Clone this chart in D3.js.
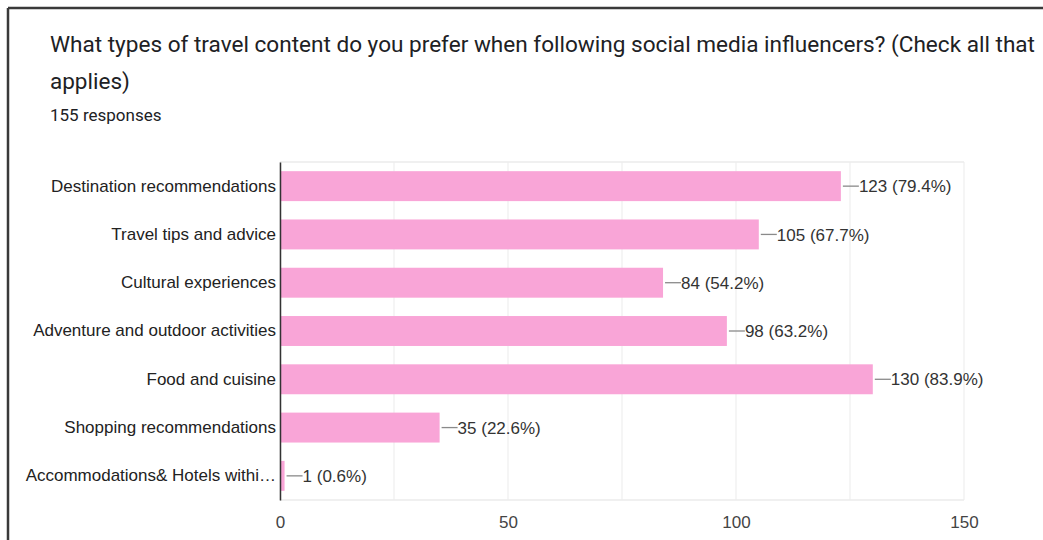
<!DOCTYPE html>
<html>
<head>
<meta charset="utf-8">
<script src="https://cdn.jsdelivr.net/npm/d3@7"></script>
<style>
  html, body { margin: 0; padding: 0; background: #fff; }
  svg { display: block; font-family: Roboto, "Noto Sans", Arial, sans-serif; }
</style>
</head>
<body>
<svg id="chart" width="1043" height="540"></svg>
<script>
// Survey answers: counts per travel content type (out of 155 responses)
const categories = [
  "Destination recommendations",
  "Travel tips and advice",
  "Cultural experiences",
  "Adventure and outdoor activities",
  "Food and cuisine",
  "Shopping recommendations",
  "Accommodations& Hotels withi…"
];
const counts = [123, 105, 84, 98, 130, 35, 1];
const percents = ["79.4%", "67.7%", "54.2%", "63.2%", "83.9%", "22.6%", "0.6%"];
const tickValues = [0, 50, 100, 150];
const gridValues = [0, 25, 50, 75, 100, 125, 150];
const titleLines = [
  "What types of travel content do you prefer when following social media influencers? (Check all that",
  "applies)"
];
const subtitle = "155 responses";

const chartFont = "'Liberation Sans', Arial, sans-serif";
const svg = d3.select("#chart");
const plot = { left: 280, right: 964, top: 162, bottom: 500 };

// card frame (top and left edges visible)
svg.append("line").attr("x1", 8).attr("x2", 1043).attr("y1", 8).attr("y2", 8)
  .attr("stroke", "#3a3a3a").attr("stroke-width", 2.5);
svg.append("line").attr("x1", 8).attr("x2", 8).attr("y1", 8).attr("y2", 540)
  .attr("stroke", "#3a3a3a").attr("stroke-width", 2.5);

// title
svg.append("g").selectAll("text").data(titleLines).join("text")
  .attr("x", 50).attr("y", (d, i) => 52 + i * 37)
  .attr("font-size", 22.5).attr("fill", "#202124")
  .attr("textLength", (d, i) => i === 0 ? 985 : null)
  .attr("lengthAdjust", "spacingAndGlyphs")
  .text(d => d);
svg.append("text").attr("x", 50).attr("y", 121)
  .attr("font-size", 17).attr("fill", "#202124").text(subtitle);

const x = d3.scaleLinear().domain([0, 150]).range([plot.left, plot.right]);
const y = d3.scaleBand().domain(categories).range([plot.top, plot.bottom]).paddingInner(0.38).paddingOuter(0.19);

// gridlines
svg.append("g").selectAll("line").data(gridValues).join("line")
  .attr("x1", d => x(d)).attr("x2", d => x(d))
  .attr("y1", plot.top).attr("y2", plot.bottom)
  .attr("stroke", "#ebebeb").attr("stroke-width", 1);
svg.append("g").selectAll("line").data([plot.top, plot.bottom]).join("line")
  .attr("x1", plot.left).attr("x2", plot.right)
  .attr("y1", d => d).attr("y2", d => d)
  .attr("stroke", "#ebebeb").attr("stroke-width", 1.5);

// bars
svg.append("g").selectAll("rect").data(counts).join("rect")
  .attr("x", x(0))
  .attr("y", (d, i) => y(categories[i]))
  .attr("width", d => x(d) - x(0))
  .attr("height", y.bandwidth())
  .attr("fill", "#f9a5d7");

// value labels with leader line
const lab = svg.append("g").selectAll("g").data(counts).join("g")
  .attr("transform", (d, i) => `translate(${x(d)},${y(categories[i]) + y.bandwidth() / 2})`);
lab.append("line").attr("x1", 2).attr("x2", 18).attr("y1", 0).attr("y2", 0)
  .attr("stroke", "#8a8a8a").attr("stroke-width", 1.3);
lab.append("text").attr("x", 18).attr("dy", "0.36em")
  .attr("font-size", 17).attr("fill", "#333").attr("font-family", chartFont)
  .text((d, i) => `${d} (${percents[i]})`);

// y axis
const yAxis = d3.axisLeft(y).tickSize(0).tickPadding(4);
const ya = svg.append("g").attr("transform", `translate(${plot.left},0)`).call(yAxis);
ya.select(".domain").attr("stroke", "#333").attr("stroke-width", 1.5);
ya.selectAll("text").attr("font-size", 17).attr("fill", "#222").attr("font-family", chartFont);

// x axis labels
const xAxis = d3.axisBottom(x).tickValues(tickValues).tickSize(0).tickPadding(16);
const xa = svg.append("g").attr("transform", `translate(0,${plot.bottom})`).call(xAxis);
xa.select(".domain").remove();
xa.selectAll("text").attr("font-size", 17).attr("fill", "#444").attr("font-family", chartFont);
</script>
</body>
</html>
